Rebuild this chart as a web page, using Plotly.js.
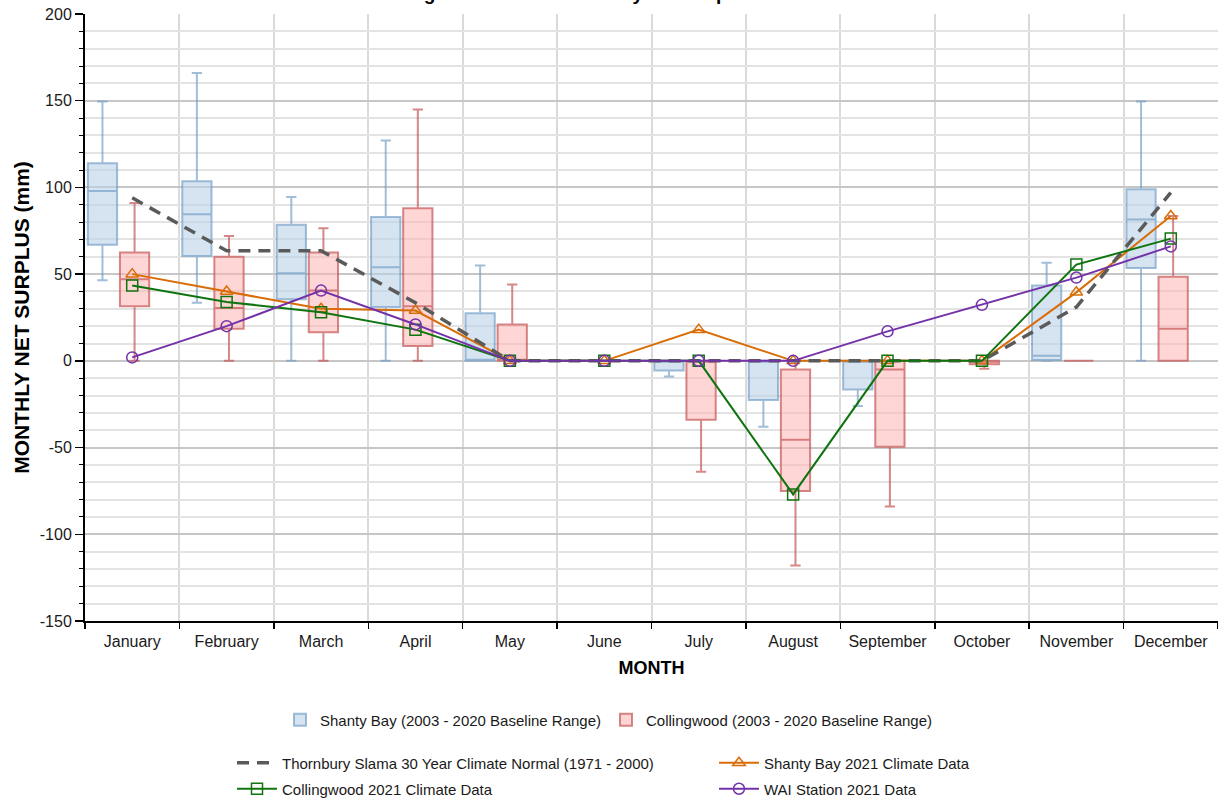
<!DOCTYPE html>
<html>
<head>
<meta charset="utf-8">
<script src="https://cdn.plot.ly/plotly-3.0.1.min.js"></script>
<style>html,body{margin:0;padding:0;background:#fff;}#chart{width:1218px;height:803px;}</style>
</head>
<body>
<div id="chart"></div>
<script>
// ---- Data ----
const months = ['January','February','March','April','May','June','July','August','September','October','November','December'];

// Y-axis tick labels
const yTickVals = [-150, -100, -50, 0, 50, 100, 150, 200];
const yTickText = ['-150', '-100', '-50', '0', '50', '100', '150', '200'];

// Shanty Bay (2003 - 2020 Baseline Range) box statistics
const shantyLow  = [46.5, 33.5, 0,    0,    0,    0, -9,   -38,  -26,   0,   0,    0];
const shantyQ1   = [67,   60.5, 35.5, 31,   0,    0, -5.5, -22.5,-16.5, 0,   0.5,  53.5];
const shantyMed  = [98,   84.5, 50.5, 54,   0,    0, 0,    0,    0,     0,   3,    81.5];
const shantyQ3   = [114,  103.5,78.5, 83,   27.5, 0, 0,    0,    0,     0,   43.5, 99];
const shantyHigh = [149.5,166,  94.5, 127,  55,   0, 0,    0,    0,     0,   56.5, 149.5];

// Collingwood (2003 - 2020 Baseline Range) box statistics
const collLow  = [0,    0,    0,    0,    0,  0, -64, -118, -84,  -4.5, 0, 0];
const collQ1   = [31.5, 18.5, 16.5, 8.5,  0,  0, -34, -75,  -49.5,-2,   0, 0];
const collMed  = [47,   30.5, 40.5, 31.5, 0,  0, 0,   -45.5,-5,    0,   0, 18.5];
const collQ3   = [62.5, 60,   62.5, 88,   21, 0, 0,   -5,   0,     0,   0, 48.5];
const collHigh = [91,   72,   76.5, 145,  44, 0, 0,   0,    0,     0,   0, 83.5];

// 2021 lines
const normal30    = [94, 63.5, 63.5, 33.5, 0, 0, 0, 0, 0, 0, 31, 97];
const shanty2021  = [50, 40, 30, 29, 0, 0, 18, 0, 0, 0, 39.5, 83.5];
const colling2021 = [43.5, 34, 28, 18, 0, 0, 0, -77, 0, 0, 55.5, 70.5];
const wai2021     = [2, 20, 40.5, 21, 0, 0, 0, 0, 17, 32.3, 48, 66];

// ---- Styling ----
const FONT = 'Liberation Sans, Arial, sans-serif';
const idx = months.map((m, i) => i);
const boundaries = [-0.5].concat(idx.map(i => i + 0.5));

const traces = [
  {
    type: 'box', name: 'Shanty Bay (2003 - 2020 Baseline Range)', legend: 'legend',
    x: idx.map(i => i - 0.315),
    lowerfence: shantyLow, q1: shantyQ1, median: shantyMed, q3: shantyQ3, upperfence: shantyHigh,
    width: 0.31, whiskerwidth: 0.35, boxpoints: false,
    fillcolor: 'rgba(186,209,230,0.6)',
    line: {color: 'rgba(110,155,196,0.65)', width: 2},
    hoverinfo: 'skip'
  },
  {
    type: 'box', name: 'Collingwood (2003 - 2020 Baseline Range)', legend: 'legend',
    x: idx.map(i => i + 0.025),
    lowerfence: collLow, q1: collQ1, median: collMed, q3: collQ3, upperfence: collHigh,
    width: 0.31, whiskerwidth: 0.35, boxpoints: false,
    fillcolor: 'rgba(255,180,180,0.55)',
    line: {color: 'rgba(196,85,85,0.7)', width: 2},
    hoverinfo: 'skip'
  },
  {
    type: 'scatter', mode: 'lines+markers', name: 'Shanty Bay 2021 Climate Data',
    x: idx, y: shanty2021, legend: 'legend2', legendrank: 2,
    line: {color: '#d96c06', width: 2},
    marker: {symbol: 'triangle-up-open', size: 11, color: '#d96c06', line: {width: 1.5}}
  },
  {
    type: 'scatter', mode: 'lines', name: 'Thornbury Slama 30 Year Climate Normal (1971 - 2000)',
    x: idx, y: normal30, legend: 'legend2', legendrank: 1,
    line: {color: '#5a5a5a', width: 3.5, dash: '12px,8px'}
  },
  {
    type: 'scatter', mode: 'lines+markers', name: 'Collingwood 2021 Climate Data',
    x: idx, y: colling2021, legend: 'legend3', legendrank: 1,
    line: {color: '#0f740f', width: 2},
    marker: {symbol: 'square-open', size: 11, color: '#0f740f', line: {width: 1.5}}
  },
  {
    type: 'scatter', mode: 'lines+markers', name: 'WAI Station 2021 Data',
    x: idx, y: wai2021, legend: 'legend3', legendrank: 2,
    line: {color: '#7432a8', width: 2},
    marker: {symbol: 'circle-open', size: 11, color: '#7432a8', line: {width: 1.5}}
  }
];

const legendBase = {
  orientation: 'h', xref: 'container', yref: 'container',
  bgcolor: 'rgba(0,0,0,0)', borderwidth: 0,
  font: {family: FONT, size: 15, color: '#1a1a1a'}
};

const layout = {
  width: 1218, height: 803,
  margin: {l: 85, r: 0, t: 14, b: 182, pad: 0},
  paper_bgcolor: '#ffffff', plot_bgcolor: '#ffffff',
  font: {family: FONT, size: 16, color: '#1a1a1a'},
  title: {
    text: 'Long Term vs. 2021 Monthly Net Surplus Results',
    font: {family: FONT, size: 19, weight: 'bold', color: '#000'},
    xref: 'container', x: 0.5, xanchor: 'center',
    yref: 'container', y: 1, yanchor: 'bottom'
  },
  showlegend: true,
  hovermode: false,
  boxmode: 'overlay',
  xaxis: {
    type: 'linear', range: [-0.5, 11.5],
    tickmode: 'array', tickvals: idx, ticktext: months, ticks: '',
    showgrid: false, zeroline: false,
    showline: true, linecolor: '#000', linewidth: 2,
    ticklabelstandoff: 5,
    tickfont: {family: FONT, size: 16, color: '#1a1a1a'},
    minor: {tickmode: 'array', tickvals: boundaries, ticks: 'outside', ticklen: 6, tickwidth: 1.5, tickcolor: '#000',
            showgrid: true, gridcolor: '#dadada', gridwidth: 2},
    title: {text: 'MONTH', font: {family: FONT, size: 18, weight: 'bold', color: '#000'}, standoff: 12}
  },
  yaxis: {
    range: [-150, 200], tickmode: 'array', tickvals: yTickVals, ticktext: yTickText,
    ticks: 'outside', ticklen: 8, tickwidth: 1.5, tickcolor: '#000',
    showline: true, linecolor: '#000', linewidth: 2,
    showgrid: true, gridcolor: '#c6c6c6', gridwidth: 2,
    zeroline: false,
    tickfont: {family: FONT, size: 16, color: '#1a1a1a'},
    minor: {tickmode: 'linear', dtick: 10, tick0: 0, ticks: 'outside', ticklen: 4, tickwidth: 1, tickcolor: '#000',
            showgrid: true, gridcolor: '#e3e3e3', gridwidth: 2},
    title: {text: 'MONTHLY NET SURPLUS (mm)', font: {family: FONT, size: 21, weight: 'bold', color: '#000'}, standoff: 4}
  },
  legend: Object.assign({}, legendBase, {x: 0.5, xanchor: 'center', y: 1 - 720/803, yanchor: 'middle'}),
  legend2: Object.assign({}, legendBase, {x: 232/1218, xanchor: 'left', y: 1 - 763/803, yanchor: 'middle',
                                          entrywidth: 427, entrywidthmode: 'pixels', itemwidth: 40}),
  legend3: Object.assign({}, legendBase, {x: 232/1218, xanchor: 'left', y: 1 - 789/803, yanchor: 'middle',
                                          entrywidth: 427, entrywidthmode: 'pixels', itemwidth: 40})
};

Plotly.newPlot('chart', traces, layout, {displayModeBar: false, staticPlot: true});
</script>
</body>
</html>
